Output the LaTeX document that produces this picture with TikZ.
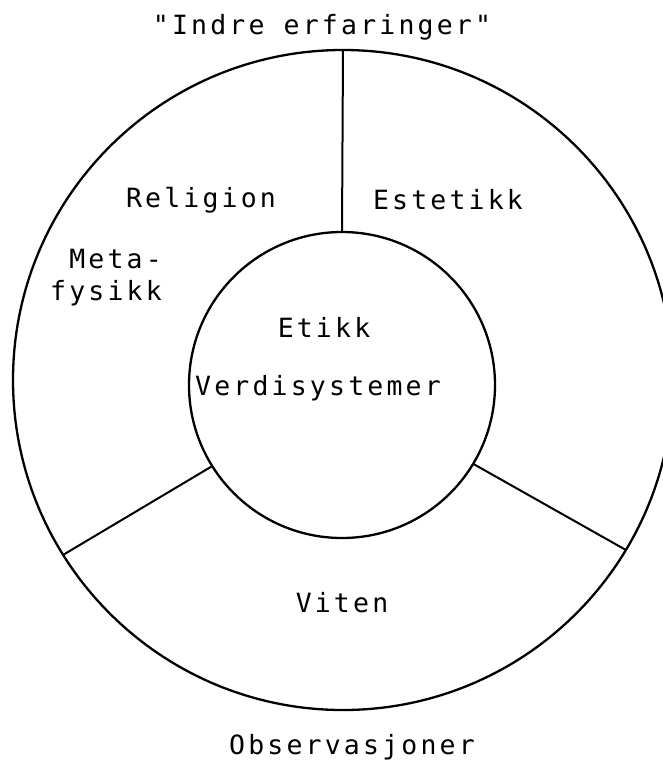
\documentclass[tikz,border=0pt]{standalone}
\usepackage{fontspec}
\newfontfamily\tw{DejaVu Sans Mono}[LetterSpace=12]
\begin{document}
\begin{tikzpicture}[x=1pt,y=-1pt,
  ring/.style={circle,draw,line width=2.3pt,inner sep=0pt,outer sep=0pt},
  spoke/.style={line width=2pt},
  lbl/.style={font=\tw\fontsize{26.5}{32}\selectfont,inner sep=0pt}]
\useasboundingbox (0,0) rectangle (662,763);
\fill[white] (0,0) rectangle (662,763);
\node[ring,minimum size=660pt] (outer) at (343,380) {};
\node[ring,minimum size=306pt] (inner) at (342,385) {};
\draw[spoke] (inner.90) -- (outer.90);
\draw[spoke] (inner.212) -- (outer.212);
\draw[spoke] (inner.-31) -- (outer.-31);
\node[lbl] (title) at (322,27) {"Indre erfaringer"};
\node[lbl] (rel) at (201,200) {Religion};
\node[lbl] (est) at (448,200) {Estetikk};
\node[lbl,align=right,anchor=east] (meta) at (162,278) {Meta-\\fysikk};
\node[lbl] (eti) at (324,327) {Etikk};
\node[lbl] (verd) at (318,388) {Verdisystemer};
\node[lbl] (vit) at (342,603) {Viten};
\node[lbl] (obs) at (352,747) {Observasjoner};
\end{tikzpicture}
\end{document}
